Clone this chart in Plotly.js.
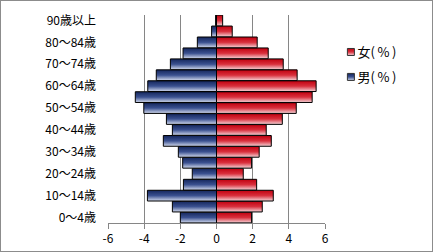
<!DOCTYPE html>
<html>
<head>
<meta charset="utf-8">
<script src="https://cdn.plot.ly/plotly-3.0.1.min.js"></script>
<style>
html,body{margin:0;padding:0;background:#fff;}
#wrap{width:433px;height:252px;box-sizing:border-box;border:1px solid #8c8c8c;overflow:hidden;}
#chart{width:431px;height:250px;}
</style>
</head>
<body>
<div id="wrap"><div id="chart"></div></div>
<script>
// Age groups (bottom to top)
const ageGroups = ['0～4歳','5～9歳','10～14歳','15～19歳','20～24歳','25～29歳','30～34歳','35～39歳','40～44歳','45～49歳','50～54歳','55～59歳','60～64歳','65～69歳','70～74歳','75～79歳','80～84歳','85～89歳','90歳以上'];
// Male share (%) shown as negative values to the left
const malePct = [-2.00,-2.44,-3.82,-1.83,-1.34,-1.87,-2.11,-2.94,-2.44,-2.77,-4.02,-4.49,-3.80,-3.33,-2.55,-1.85,-1.06,-0.27,-0.05];
// Female share (%)
const femalePct = [1.94,2.53,3.14,2.22,1.48,1.94,2.36,3.03,2.75,3.64,4.41,5.29,5.51,4.46,3.69,2.86,2.25,0.87,0.34];
// Tick labels shown on the y axis (every other group)
const yTickLabels = ['0～4歳','10～14歳','20～24歳','30～34歳','40～44歳','50～54歳','60～64歳','70～74歳','80～84歳','90歳以上'];
const xTickVals = [-6,-4,-2,0,2,4,6];
const maleName = '男(\u2009%\u2009)';
const femaleName = '女(\u2009%\u2009)';

const FONT = '"Noto Sans CJK JP", "Noto Sans", sans-serif';
const MALE_BASE = 'rgb(58, 79, 138)';
const FEMALE_BASE = 'rgb(212, 32, 48)';

const traces = [
  {type:'bar', orientation:'h', y:ageGroups, x:malePct, name:maleName, legend:'legend2',
   marker:{color:MALE_BASE, line:{color:'#000', width:1}}, hoverinfo:'skip'},
  {type:'bar', orientation:'h', y:ageGroups, x:femalePct, name:femaleName, legend:'legend',
   marker:{color:FEMALE_BASE, line:{color:'#000', width:1}}, hoverinfo:'skip'}
];

const layout = {
  width:431, height:250,
  margin:{l:107, r:107, t:14, b:28, pad:0},
  paper_bgcolor:'#fff', plot_bgcolor:'#fff',
  barmode:'overlay', bargap:0.02,
  font:{family:FONT, size:12, color:'#000'},
  xaxis:{range:[-6,6], tickvals:xTickVals, ticktext:xTickVals.map(String),
    showgrid:true, gridcolor:'#868686', gridwidth:1,
    zeroline:true, zerolinecolor:'#555', zerolinewidth:1,
    showline:true, linecolor:'#868686', linewidth:1,
    ticks:'outside', ticklen:5, tickcolor:'#868686',
    tickfont:{family:FONT, size:12, color:'#000'}, fixedrange:true},
  yaxis:{type:'category', categoryorder:'array', categoryarray:ageGroups,
    range:[-0.5, ageGroups.length-0.5],
    tickvals:yTickLabels, ticktext:yTickLabels,
    showgrid:false, zeroline:false, showline:false, ticks:'',
    ticklabelstandoff:11,
    tickfont:{family:FONT, size:12, color:'#000'}, fixedrange:true},
  showlegend:true,
  legend:{x:0.965, xanchor:'left', y:0.822, yanchor:'middle', bgcolor:'rgba(0,0,0,0)',
    font:{family:FONT, size:13, color:'#000'}, itemclick:false, itemdoubleclick:false},
  legend2:{x:0.965, xanchor:'left', y:0.702, yanchor:'middle', bgcolor:'rgba(0,0,0,0)',
    font:{family:FONT, size:13, color:'#000'}, itemclick:false, itemdoubleclick:false}
};

Plotly.newPlot('chart', traces, layout, {staticPlot:true, displayModeBar:false}).then(function(gd){
  const svg = gd.querySelector('svg.main-svg');
  const NS = 'http://www.w3.org/2000/svg';
  let defs = svg.querySelector('defs');
  if(!defs){ defs = document.createElementNS(NS,'defs'); svg.insertBefore(defs, svg.firstChild); }
  function grad(id, stops){
    const g = document.createElementNS(NS,'linearGradient');
    g.setAttribute('id', id);
    g.setAttribute('x1','0'); g.setAttribute('y1','0'); g.setAttribute('x2','0'); g.setAttribute('y2','1');
    stops.forEach(function(s){
      const st = document.createElementNS(NS,'stop');
      st.setAttribute('offset', s[0]); st.setAttribute('stop-color', s[1]);
      g.appendChild(st);
    });
    defs.appendChild(g);
  }
  grad('gradMale', [['0','#14265c'],['0.5','#3b5190'],['1','#d3dbee']]);
  grad('gradFemale', [['0','#c0000f'],['0.5','#d9303d'],['1','#f6d6da']]);
  const map = {};
  map[MALE_BASE.replace(/\s/g,'')] = 'url(#gradMale)';
  map[FEMALE_BASE.replace(/\s/g,'')] = 'url(#gradFemale)';
  gd.querySelectorAll('.barlayer path, .legendpoints path').forEach(function(p){
    const f = (p.style.fill||'').replace(/\s/g,'');
    if(map[f]) p.style.fill = map[f];
  });
  gd.querySelectorAll('.legendpoints path').forEach(function(p){
    p.setAttribute('d','M17,3.5H10V-3.5H17Z');
    p.style.strokeWidth = '1px';
    p.style.stroke = '#333';
  });
});
</script>
</body>
</html>
